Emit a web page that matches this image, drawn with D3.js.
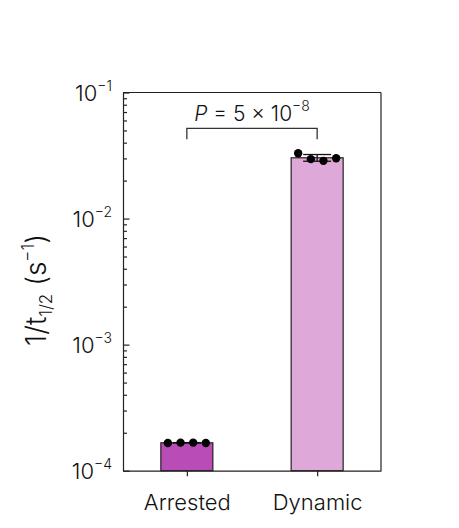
<!DOCTYPE html>
<html>
<head>
<meta charset="utf-8">
<script src="https://cdn.jsdelivr.net/npm/d3@7"></script>
<style>
  body { margin: 0; background: #fff; }
  svg { font-family: Inter, "Noto Sans", sans-serif; font-weight: 350; }
  .axis path, .axis line { stroke: #222; stroke-width: 1.2; }
</style>
</head>
<body>
<div id="chart"></div>
<script>
// data
var categories = ["Arrested", "Dynamic"];
var arrestedPoints = [1.66e-4, 1.67e-4, 1.67e-4, 1.66e-4];
var dynamicPoints = [0.0330, 0.0296, 0.0287, 0.0301];
var barColors = ["#ba4cb8", "#dea8d9"];
var majorTicks = [1e-4, 1e-3, 1e-2, 1e-1];
var tickExponents = ["−4", "−3", "−2", "−1"];
var pLabel = { p: "P", rest: " = 5 × 10", exp: "−8" };

var width = 459, height = 528;
var margin = { top: 92.5, right: 78, bottom: 57.3, left: 123 };
var innerW = width - margin.left - margin.right;
var innerH = height - margin.top - margin.bottom;

var svg = d3.select("#chart").append("svg")
  .attr("width", width)
  .attr("height", height);

var g = svg.append("g")
  .attr("transform", "translate(" + margin.left + "," + margin.top + ")");

var x = d3.scalePoint()
  .domain(categories)
  .range([0, innerW])
  .padding(0.49);

var y = d3.scaleLog()
  .domain([1e-4, 1e-1])
  .range([innerH, 0]);

var groups = [arrestedPoints, dynamicPoints].map(function(pts, i) {
  return { name: categories[i], pts: pts, mean: d3.mean(pts), sd: d3.deviation(pts), color: barColors[i] };
});

var barW = 52;
var jitter = [-19, -6.3, 6.3, 19];

// bars
g.selectAll(".bar")
  .data(groups)
  .enter().append("rect")
  .attr("class", "bar")
  .attr("x", function(d) { return x(d.name) - barW / 2; })
  .attr("y", function(d) { return y(d.mean); })
  .attr("width", barW)
  .attr("height", function(d) { return innerH - y(d.mean); })
  .attr("fill", function(d) { return d.color; })
  .attr("stroke", "#222")
  .attr("stroke-width", 1.2);

// error bars (mean +/- sd)
var capW = 28;
var err = g.selectAll(".err")
  .data(groups)
  .enter().append("g")
  .attr("class", "err")
  .attr("stroke", "#111")
  .attr("stroke-width", 1.3);
err.append("line")
  .attr("x1", function(d) { return x(d.name); })
  .attr("x2", function(d) { return x(d.name); })
  .attr("y1", function(d) { return y(d.mean - d.sd); })
  .attr("y2", function(d) { return y(d.mean + d.sd); });
err.append("line")
  .attr("x1", function(d) { return x(d.name) - capW / 2; })
  .attr("x2", function(d) { return x(d.name) + capW / 2; })
  .attr("y1", function(d) { return y(d.mean + d.sd); })
  .attr("y2", function(d) { return y(d.mean + d.sd); });
err.append("line")
  .attr("x1", function(d) { return x(d.name) - capW / 2; })
  .attr("x2", function(d) { return x(d.name) + capW / 2; })
  .attr("y1", function(d) { return y(d.mean - d.sd); })
  .attr("y2", function(d) { return y(d.mean - d.sd); });

// individual points
groups.forEach(function(grp) {
  g.selectAll(".dot-" + grp.name)
    .data(grp.pts)
    .enter().append("circle")
    .attr("cx", function(d, i) { return x(grp.name) + jitter[i]; })
    .attr("cy", function(d) { return y(d); })
    .attr("r", 4.2)
    .attr("fill", "#000");
});

// frame (top and right)
g.append("line").attr("x1", 0).attr("x2", innerW).attr("y1", 0).attr("y2", 0)
  .attr("stroke", "#222").attr("stroke-width", 1.2);
g.append("line").attr("x1", innerW).attr("x2", innerW).attr("y1", 0).attr("y2", innerH)
  .attr("stroke", "#222").attr("stroke-width", 1.2);

// y axis: major ticks inward
g.append("g")
  .attr("class", "axis")
  .call(d3.axisLeft(y).tickValues(majorTicks).tickSizeInner(-6.5).tickSizeOuter(0).tickFormat(""));

// minor ticks
var minorTicks = [];
for (var e = -4; e < -1; e++) {
  for (var m = 2; m <= 9; m++) minorTicks.push(m * Math.pow(10, e));
}
g.append("g")
  .attr("class", "axis")
  .call(d3.axisLeft(y).tickValues(minorTicks).tickSizeInner(-4).tickSizeOuter(0).tickFormat(""))
  .select(".domain").remove();

// y tick labels with superscripts
var ylab = g.selectAll(".ylab")
  .data(majorTicks)
  .enter().append("text")
  .attr("class", "ylab")
  .attr("x", -11)
  .attr("y", function(d) { return y(d) + 8; })
  .attr("text-anchor", "end")
  .attr("font-size", 22)
  .attr("fill", "#111");
ylab.append("tspan").text("10");
ylab.append("tspan")
  .attr("font-size", 14)
  .attr("dy", -10)
  .text(function(d, i) { return tickExponents[i]; });

// x axis
g.append("g")
  .attr("class", "axis")
  .attr("transform", "translate(0," + innerH + ")")
  .call(d3.axisBottom(x).tickSizeInner(5.5).tickSizeOuter(0).tickPadding(18))
  .call(function(a) {
    a.selectAll("text").attr("font-size", 22).attr("fill", "#111")
      .attr("font-family", "Inter, sans-serif").attr("font-weight", 350);
  });

// y axis title
var yt = svg.append("text")
  .attr("transform", "translate(46,290) rotate(-90)")
  .attr("text-anchor", "middle")
  .attr("font-size", 28)
  .attr("fill", "#111");
yt.append("tspan").text("1/t");
yt.append("tspan").attr("font-size", 17).attr("dy", 6).text("1/2");
yt.append("tspan").attr("dy", -6).text(" (s");
yt.append("tspan").attr("font-size", 17).attr("dy", -12).text("−1");
yt.append("tspan").attr("dy", 12).text(")");

// significance bracket
var bx1 = x(categories[0]), bx2 = x(categories[1]);
var by = 128.3 - margin.top, legs = 11;
g.append("path")
  .attr("d", d3.line()([[bx1, by + legs], [bx1, by], [bx2, by], [bx2, by + legs]]))
  .attr("fill", "none")
  .attr("stroke", "#333")
  .attr("stroke-width", 1.3);

var pt = g.append("text")
  .attr("x", (bx1 + bx2) / 2)
  .attr("y", 121 - margin.top)
  .attr("text-anchor", "middle")
  .attr("font-size", 21)
  .attr("fill", "#111");
pt.append("tspan").attr("font-style", "italic").text(pLabel.p);
pt.append("tspan").text(pLabel.rest);
pt.append("tspan").attr("font-size", 14).attr("dy", -10).text(pLabel.exp);
</script>
</body>
</html>
